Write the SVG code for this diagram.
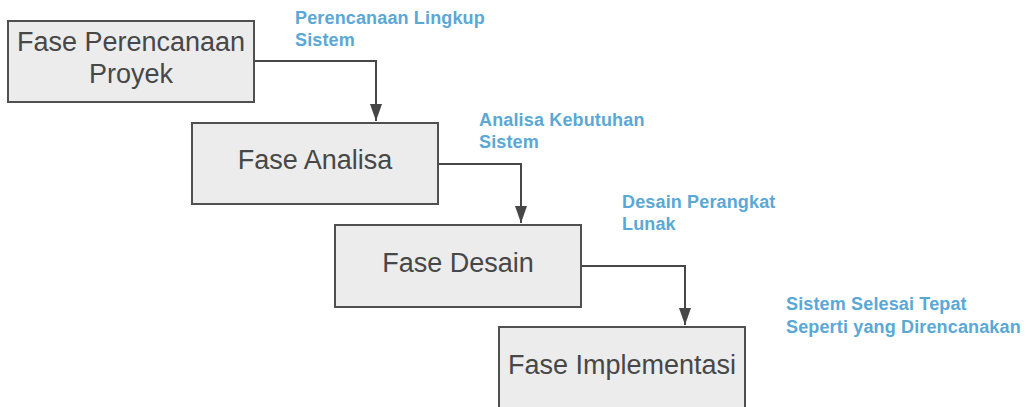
<svg xmlns="http://www.w3.org/2000/svg" width="1026" height="407" viewBox="0 0 1026 407">
<style>
.box{fill:#ececec;stroke:#505050;stroke-width:2}
.t{font-family:"Liberation Sans",Arial,sans-serif;font-size:27px;fill:#474747;text-anchor:middle}
.lbl{font-family:"Liberation Sans",Arial,sans-serif;font-size:18px;font-weight:bold;fill:#5aa8d6;letter-spacing:0.15px}
.c{fill:none;stroke:#474747;stroke-width:2}
</style>
<defs>
<marker id="arr" markerWidth="12" markerHeight="17" refX="6" refY="17" orient="0" markerUnits="userSpaceOnUse">
<path d="M0,0 L12,0 L6,17 Z" fill="#474747"/>
</marker>
</defs>
<rect width="1026" height="407" fill="#ffffff"/>
<g id="connectors">
<polyline class="c" points="254,61 376,61 376,121" marker-end="url(#arr)"/>
<polyline class="c" points="438,164 521,164 521,223" marker-end="url(#arr)"/>
<polyline class="c" points="581,266 685,266 685,325" marker-end="url(#arr)"/>
</g>
<g id="node1">
<rect class="box" x="8" y="21" width="246" height="81"/>
<text class="t" x="131" y="51">Fase Perencanaan</text>
<text class="t" x="131" y="83">Proyek</text>
</g>
<g id="node2">
<rect class="box" x="192" y="123" width="246" height="81"/>
<text class="t" x="315" y="169">Fase Analisa</text>
</g>
<g id="node3">
<rect class="box" x="335" y="225" width="246" height="82"/>
<text class="t" x="458" y="272">Fase Desain</text>
</g>
<g id="node4">
<rect class="box" x="499" y="327" width="246" height="90"/>
<text class="t" x="622" y="374">Fase Implementasi</text>
</g>
<g id="labels">
<text class="lbl" x="295" y="24">Perencanaan Lingkup</text>
<text class="lbl" x="295" y="46">Sistem</text>
<text class="lbl" x="479" y="126">Analisa Kebutuhan</text>
<text class="lbl" x="479" y="148">Sistem</text>
<text class="lbl" x="622" y="208">Desain Perangkat</text>
<text class="lbl" x="622" y="230">Lunak</text>
<text class="lbl" x="786" y="310">Sistem Selesai Tepat</text>
<text class="lbl" x="786" y="333">Seperti yang Direncanakan</text>
</g>
</svg>
